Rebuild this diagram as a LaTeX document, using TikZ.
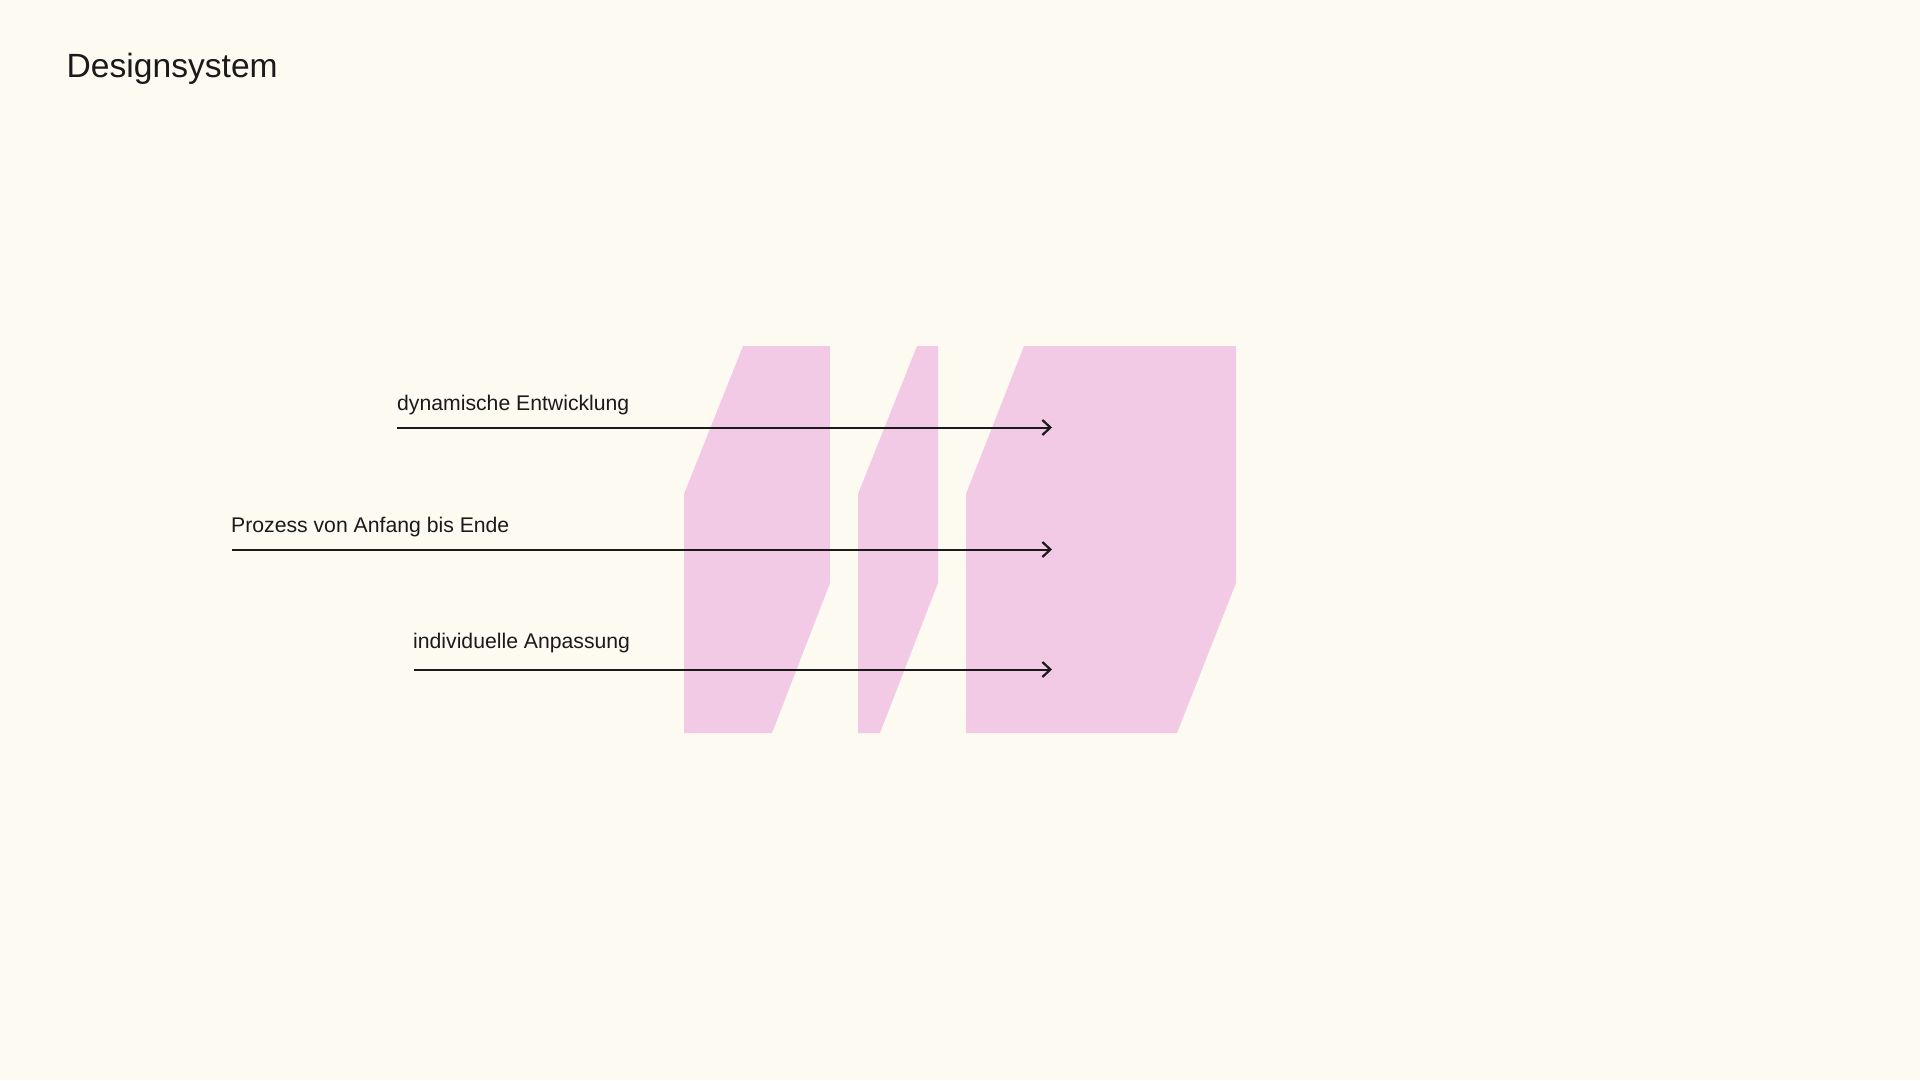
\documentclass[tikz,border=0pt]{standalone}
\usepackage{fontspec}
\setmainfont{Liberation Sans}
\usetikzlibrary{arrows.meta}
\definecolor{bg}{HTML}{FDFAF2}
\definecolor{pinkfill}{HTML}{F2CAE5}
\definecolor{ink}{HTML}{1A1A1A}
\begin{document}
\begin{tikzpicture}[x=1pt,y=-1pt,
  panel/.style={fill=pinkfill,draw=none},
  flow/.style={draw=ink,line width=2pt,-{Straight Barb[length=8pt,width=15pt,line width=2.2pt]}},
  label/.style={anchor=base west,inner sep=0pt,text=ink,font=\fontsize{21.2}{25}\selectfont},
  titletext/.style={anchor=base west,inner sep=0pt,text=ink,font=\fontsize{33.6}{40}\selectfont}]
\fill[bg] (0,0) rectangle (1920,1080);
\useasboundingbox (0,0) rectangle (1920,1080);
% panels
\path[panel] (684,494) -- (743,346) -- (830,346) -- (830,583) -- (772,733) -- (684,733) -- cycle;
\path[panel] (858,494) -- (917,346) -- (938,346) -- (938,583) -- (880,733) -- (858,733) -- cycle;
\path[panel] (966,494) -- (1024,346) -- (1236,346) -- (1236,583) -- (1177,733) -- (966,733) -- cycle;
% title
\node[titletext] (title) at (66.5,77.5) {Designsystem};
% labels
\node[label] (l1) at (397,410.5) {dynamische Entwicklung};
\node[label] (l2) at (231,532.5) {Prozess von Anfang bis Ende};
\node[label] (l3) at (413,648.5) {individuelle Anpassung};
% arrows
\coordinate (s1) at (397,427.5);
\coordinate (e1) at (1052,427.5);
\coordinate (s2) at (231.5,549.5);
\coordinate (e2) at (1052,549.5);
\coordinate (s3) at (413.5,669.5);
\coordinate (e3) at (1052,669.5);
\draw[flow] (s1) -- (e1);
\draw[flow] (s2) -- (e2);
\draw[flow] (s3) -- (e3);
\end{tikzpicture}
\end{document}
